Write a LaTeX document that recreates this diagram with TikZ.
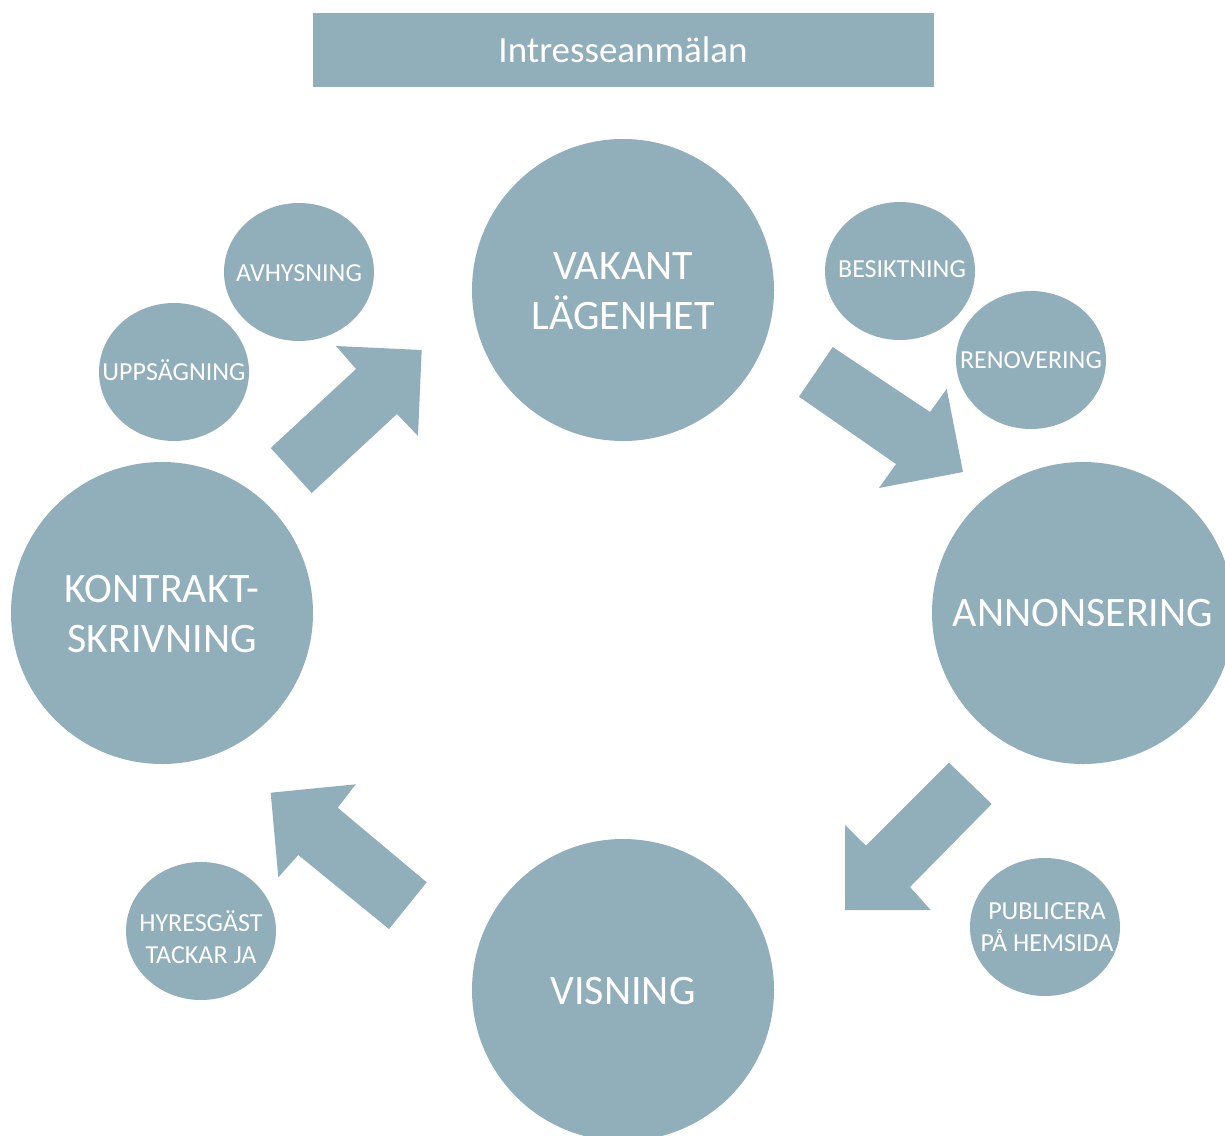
\documentclass[tikz,border=0pt]{standalone}
\usepackage{fontspec}
\setmainfont{Carlito}
\definecolor{bub}{RGB}{145,174,187}
\begin{document}
\begin{tikzpicture}[x=1pt,y=-1pt,
  shape fill/.style={fill=bub},
  bigtxt/.style={text=white,align=center,inner sep=0pt,font=\fontsize{42}{50}\selectfont},
  smalltxt/.style={text=white,align=center,inner sep=0pt,font=\fontsize{26}{32}\selectfont},
  toptxt/.style={text=white,inner sep=0pt,font=\fontsize{37}{40}\selectfont}]
\useasboundingbox (0,0) rectangle (1225,1135);
\clip (0,0) rectangle (1225,1135);
% top box
\fill[shape fill] (313,13) rectangle (934,87);
\node[toptxt] (intr) at (623,50) {Intresseanmälan};
% big circles
\fill[shape fill] (623,290) circle[radius=151];
\node[bigtxt] (vak) at (623,291) {VAKANT\\LÄGENHET};
\fill[shape fill] (1083,613) circle[radius=151];
\node[bigtxt] (ann) at (1083,613) {ANNONSERING};
\fill[shape fill] (623,990) circle[radius=151];
\node[bigtxt] (vis) at (623,991) {VISNING};
\fill[shape fill] (162,613) circle[radius=151];
\node[bigtxt] (kon) at (162,614) {KONTRAKT-\\SKRIVNING};
% small ellipses
\fill[shape fill] (299,272) ellipse[x radius=75,y radius=69];
\node[smalltxt] (avh) at (299,273) {AVHYSNING};
\fill[shape fill] (174,372) ellipse[x radius=75,y radius=69];
\node[smalltxt] (upp) at (174,370) {UPPSÄGNING};
\fill[shape fill] (900,271) ellipse[x radius=75,y radius=69];
\node[smalltxt] (bes) at (902,269) {BESIKTNING};
\fill[shape fill] (1031,360) ellipse[x radius=75,y radius=69];
\node[smalltxt] (ren) at (1031,360) {RENOVERING};
\fill[shape fill] (1045,927) ellipse[x radius=75,y radius=69];
\node[smalltxt] (pub) at (1047,927) {PUBLICERA\\PÅ HEMSIDA};
\fill[shape fill] (201,931) ellipse[x radius=75,y radius=69];
\node[smalltxt] (hyr) at (201,937) {HYRESGÄST\\TACKAR JA};
% block arrows
\fill[shape fill] (421.7,350) -- (418,436) -- (397,414) -- (311.7,493) -- (270.7,448) -- (356,369) -- (336,346) -- cycle;
\fill[shape fill] (832.7,347) -- (930,412) -- (946.7,389) -- (963,472) -- (879,488) -- (896,464) -- (799,396.7) -- cycle;
\fill[shape fill] (949,762.7) -- (991.7,804) -- (910,887) -- (930.7,910) -- (845,910) -- (845,825) -- (866,845.7) -- cycle;
\fill[shape fill] (270.7,792.7) -- (355.7,784.3) -- (337.7,807.7) -- (426.7,882.3) -- (389,929) -- (298.3,855) -- (278.3,877.3) -- cycle;
\end{tikzpicture}
\end{document}
